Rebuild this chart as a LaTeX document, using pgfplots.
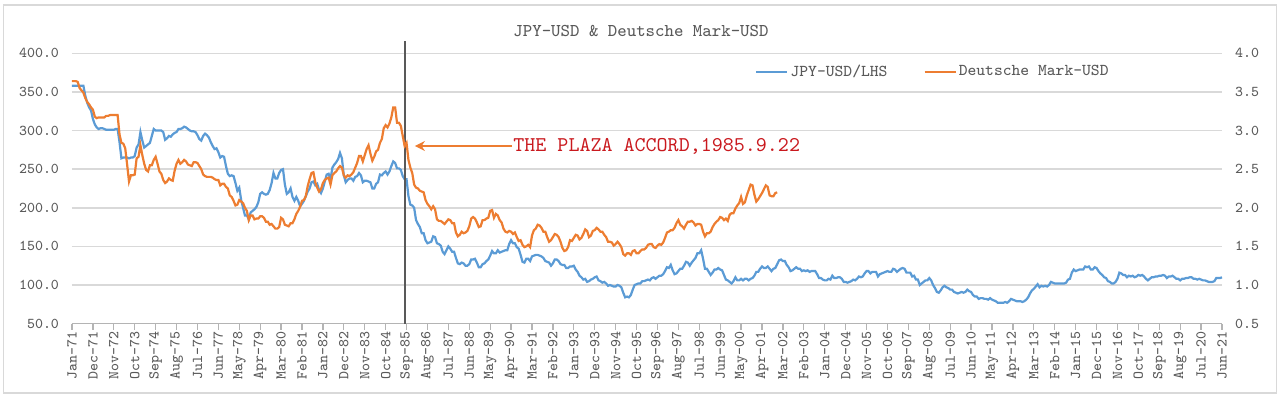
\documentclass[border=0pt]{standalone}
\usepackage{pgfplots}
\pgfplotsset{compat=1.18}
\usetikzlibrary{arrows.meta}
\definecolor{jblue}{HTML}{5B9BD5}
\definecolor{dorange}{HTML}{ED7D31}
\definecolor{gridc}{HTML}{D9D9D9}
\definecolor{txt}{HTML}{595959}
\definecolor{plaza}{HTML}{C9191E}
\newcommand\tkfont{\ttfamily\fontsize{7.5pt}{9pt}\selectfont}
\newcommand\lgfont{\ttfamily\fontsize{8.3pt}{10pt}\selectfont}
\newcommand\ttlfont{\ttfamily\fontsize{9pt}{11pt}\selectfont}
\newcommand\anfont{\ttfamily\fontsize{10.5pt}{12pt}\selectfont}
\begin{document}
\begin{tikzpicture}
\useasboundingbox (-36pt,-37.2pt) rectangle (604pt,161.8pt);
\draw[gridc, line width=0.6pt] (-34.25pt,-34.7pt) rectangle (602.25pt,159.3pt);
\begin{axis}[
  at={(0pt,0pt)}, anchor=south west, scale only axis,
  width=575pt, height=135.15pt,
  xmin=0, xmax=605, ymin=50, ymax=400,
  clip=false,
  axis x line*=bottom, axis y line*=left,
  x axis line style={draw=txt!45, line width=0.6pt},
  y axis line style={draw=none},
  ytick={50,100,...,400},
  yticklabels={50.0,100.0,150.0,200.0,250.0,300.0,350.0,400.0},
  ymajorgrids, grid style={gridc, line width=0.75pt},
  major y tick style={draw=none},
  xtick={0,11,...,605},
  xticklabels={Jan-71,Dec-71,Nov-72,Oct-73,Sep-74,Aug-75,Jul-76,Jun-77,May-78,Apr-79,Mar-80,Feb-81,Jan-82,Dec-82,Nov-83,Oct-84,Sep-85,Aug-86,Jul-87,Jun-88,May-89,Apr-90,Mar-91,Feb-92,Jan-93,Dec-93,Nov-94,Oct-95,Sep-96,Aug-97,Jul-98,Jun-99,May-00,Apr-01,Mar-02,Feb-03,Jan-04,Dec-04,Nov-05,Oct-06,Sep-07,Aug-08,Jul-09,Jun-10,May-11,Apr-12,Mar-13,Feb-14,Jan-15,Dec-15,Nov-16,Oct-17,Sep-18,Aug-19,Jul-20,Jun-21},
  tick align=outside, major tick length=3pt,
  major x tick style={draw=txt!45, line width=0.6pt},
  x tick label style={rotate=90, anchor=east, font=\tkfont, text=txt, inner sep=1pt},
  y tick label style={font=\tkfont, text=txt},
  title={JPY-USD \& Deutsche Mark-USD},
  title style={at={(0.4948,1.038)}, anchor=center, font=\ttlfont, text=txt},
  legend columns=2,
  legend style={at={(0.5939,0.9308)}, anchor=west, draw=none, fill=none,
    inner sep=0pt, font=\lgfont, text=txt,
    nodes={inner sep=1pt},
    /tikz/every even column/.append style={column sep=17pt}},
  legend image code/.code={\draw[#1] (0pt,0pt) -- (15.5pt,0pt);},
]
\addplot[jblue, line width=1.1pt] table[x expr=\coordindex, y index=0, header=false, row sep=\\] {
358\\358\\358\\358\\358\\358\\358\\345\\336\\330\\326\\315\\
308\\304\\302\\303\\303\\302\\301\\301\\301\\301\\301\\302\\
302\\285\\264\\265\\265\\265\\264\\265\\265\\267\\278\\282\\
298\\287\\278\\280\\282\\284\\293\\302\\300\\300\\300\\300\\
298\\288\\290\\293\\292\\295\\297\\298\\302\\302\\303\\305\\
304\\302\\300\\299\\299\\298\\294\\289\\287\\293\\296\\294\\
291\\285\\280\\276\\277\\272\\265\\267\\266\\254\\244\\241\\
242\\241\\232\\222\\226\\210\\200\\190\\190\\185\\194\\196\\
198\\201\\207\\218\\220\\218\\217\\218\\223\\232\\245\\238\\
238\\245\\249\\250\\230\\218\\220\\225\\214\\209\\214\\209\\
202\\205\\209\\215\\221\\225\\233\\234\\229\\231\\223\\219\\
225\\234\\243\\244\\237\\252\\256\\259\\263\\271\\264\\242\\
233\\236\\238\\238\\235\\240\\241\\245\\242\\233\\235\\235\\
234\\233\\225\\225\\231\\233\\243\\242\\245\\247\\243\\247\\
254\\260\\258\\251\\251\\249\\241\\237\\237\\215\\204\\203\\
200\\184\\179\\175\\167\\167\\158\\154\\155\\156\\163\\162\\
154\\153\\151\\143\\140\\145\\150\\147\\143\\143\\135\\128\\
127\\129\\128\\125\\125\\127\\133\\133\\134\\129\\123\\123\\
127\\128\\131\\133\\138\\144\\141\\141\\145\\142\\143\\144\\
145\\145\\153\\158\\154\\154\\149\\147\\139\\130\\129\\134\\
134\\131\\137\\138\\139\\139\\138\\137\\135\\131\\130\\129\\
125\\128\\133\\133\\131\\127\\126\\126\\122\\122\\124\\124\\
125\\120\\117\\112\\110\\107\\108\\104\\105\\107\\108\\110\\
111\\106\\105\\103\\104\\102\\99\\100\\99\\98\\98\\100\\
99\\97\\90\\84\\85\\84\\87\\94\\100\\101\\102\\102\\
105\\105\\106\\107\\106\\109\\110\\108\\110\\112\\112\\114\\
118\\123\\122\\126\\119\\114\\115\\118\\121\\121\\125\\130\\
129\\125\\129\\132\\135\\141\\141\\145\\134\\121\\121\\117\\
113\\116\\120\\120\\122\\120\\119\\113\\107\\106\\104\\102\\
105\\110\\106\\106\\108\\106\\108\\108\\106\\108\\109\\112\\
117\\117\\121\\124\\122\\122\\124\\121\\118\\121\\122\\127\\
132\\133\\131\\131\\126\\123\\118\\119\\121\\123\\121\\121\\
118\\119\\118\\119\\117\\118\\118\\118\\114\\109\\109\\107\\
106\\106\\108\\107\\112\\109\\109\\110\\110\\108\\104\\104\\
103\\104\\105\\107\\106\\108\\111\\110\\111\\115\\118\\118\\
115\\117\\117\\117\\111\\114\\115\\116\\117\\118\\117\\117\\
121\\120\\117\\119\\121\\122\\121\\116\\116\\116\\111\\112\\
107\\107\\100\\102\\104\\106\\106\\109\\106\\100\\96\\91\\
90\\93\\97\\99\\97\\96\\94\\94\\91\\90\\89\\90\\
91\\90\\91\\94\\92\\91\\87\\85\\85\\82\\83\\83\\
82\\82\\81\\83\\81\\80\\79\\77\\77\\77\\77\\78\\
77\\79\\82\\81\\80\\79\\79\\79\\78\\79\\81\\84\\
89\\93\\95\\98\\101\\97\\99\\98\\99\\98\\100\\104\\
103\\102\\102\\102\\102\\102\\102\\103\\107\\108\\116\\120\\
118\\119\\120\\120\\120\\124\\123\\124\\120\\120\\123\\122\\
118\\115\\113\\110\\109\\105\\104\\102\\102\\104\\108\\116\\
115\\113\\113\\110\\112\\111\\112\\110\\111\\113\\112\\113\\
111\\108\\106\\108\\110\\110\\111\\111\\112\\112\\113\\112\\
109\\111\\111\\112\\110\\108\\108\\106\\108\\108\\109\\109\\
110\\110\\108\\108\\107\\108\\107\\106\\106\\105\\104\\104\\
104\\105\\109\\109\\109\\110\\
};
\addlegendentry{JPY-USD/LHS}
\addlegendimage{dorange, line width=1.1pt}
\addlegendentry{Deutsche Mark-USD}
\draw[txt, line width=1pt] (axis cs:175,50) -- (axis cs:175,416);
\draw[dorange, line width=0.7pt, -{Stealth[length=5pt,width=5pt]}] (axis cs:231.5,280) -- (axis cs:180.4,280);
\node[anchor=west, inner sep=0pt, text=plaza, font=\anfont] at (axis cs:232,280) {THE PLAZA ACCORD,1985.9.22};
\end{axis}
\begin{axis}[
  at={(0pt,0pt)}, anchor=south west, scale only axis,
  width=575pt, height=135.15pt,
  xmin=0, xmax=605, ymin=0.5, ymax=4.0,
  clip=false,
  axis x line=none, xtick=\empty,
  axis y line*=right,
  y axis line style={draw=none},
  ytick={0.5,1.0,...,4.0},
  yticklabels={0.5,1.0,1.5,2.0,2.5,3.0,3.5,4.0},
  major y tick style={draw=none},
  y tick label style={font=\tkfont, text=txt, xshift=3pt},
]
\addplot[dorange, line width=1.1pt] table[x expr=\coordindex, y index=0, header=false, row sep=\\] {
3.64\\3.64\\3.64\\3.63\\3.55\\3.52\\3.49\\3.42\\3.37\\3.34\\3.30\\3.27\\
3.18\\3.16\\3.17\\3.17\\3.17\\3.17\\3.19\\3.19\\3.20\\3.20\\3.20\\3.20\\
3.20\\2.95\\2.84\\2.83\\2.77\\2.56\\2.34\\2.42\\2.42\\2.43\\2.64\\2.66\\
2.81\\2.68\\2.57\\2.49\\2.47\\2.55\\2.55\\2.62\\2.66\\2.57\\2.47\\2.44\\
2.36\\2.32\\2.34\\2.38\\2.36\\2.35\\2.48\\2.57\\2.62\\2.57\\2.59\\2.62\\
2.60\\2.56\\2.55\\2.54\\2.59\\2.59\\2.58\\2.54\\2.50\\2.43\\2.41\\2.40\\
2.40\\2.40\\2.39\\2.37\\2.36\\2.36\\2.29\\2.31\\2.31\\2.27\\2.25\\2.16\\
2.14\\2.09\\2.03\\2.04\\2.10\\2.08\\2.06\\2.00\\1.96\\1.84\\1.90\\1.90\\
1.85\\1.86\\1.86\\1.89\\1.89\\1.87\\1.82\\1.82\\1.78\\1.79\\1.76\\1.73\\
1.73\\1.75\\1.87\\1.85\\1.78\\1.77\\1.76\\1.80\\1.80\\1.85\\1.92\\1.96\\
2.01\\2.09\\2.10\\2.15\\2.28\\2.37\\2.45\\2.46\\2.33\\2.26\\2.21\\2.24\\
2.32\\2.36\\2.38\\2.39\\2.30\\2.42\\2.45\\2.47\\2.51\\2.54\\2.52\\2.42\\
2.39\\2.42\\2.41\\2.43\\2.46\\2.52\\2.58\\2.67\\2.67\\2.60\\2.68\\2.76\\
2.81\\2.70\\2.61\\2.66\\2.73\\2.75\\2.84\\2.89\\3.03\\3.07\\3.04\\3.09\\
3.17\\3.30\\3.30\\3.10\\3.10\\3.06\\2.93\\2.80\\2.84\\2.62\\2.52\\2.45\\
2.30\\2.26\\2.25\\2.22\\2.21\\2.20\\2.10\\2.05\\2.02\\1.98\\2.02\\1.98\\
1.85\\1.83\\1.83\\1.81\\1.79\\1.82\\1.85\\1.84\\1.80\\1.80\\1.68\\1.63\\
1.65\\1.69\\1.67\\1.68\\1.70\\1.76\\1.86\\1.88\\1.86\\1.81\\1.75\\1.76\\
1.84\\1.84\\1.86\\1.87\\1.96\\1.97\\1.87\\1.92\\1.90\\1.84\\1.81\\1.73\\
1.69\\1.68\\1.70\\1.69\\1.66\\1.68\\1.62\\1.57\\1.58\\1.52\\1.49\\1.50\\
1.52\\1.49\\1.64\\1.71\\1.73\\1.78\\1.77\\1.74\\1.69\\1.69\\1.62\\1.56\\
1.58\\1.62\\1.66\\1.65\\1.62\\1.56\\1.48\\1.44\\1.45\\1.49\\1.58\\1.57\\
1.61\\1.65\\1.64\\1.59\\1.61\\1.66\\1.72\\1.70\\1.62\\1.64\\1.70\\1.71\\
1.74\\1.72\\1.69\\1.69\\1.65\\1.62\\1.56\\1.56\\1.55\\1.51\\1.53\\1.56\\
1.53\\1.49\\1.40\\1.38\\1.41\\1.41\\1.39\\1.44\\1.45\\1.41\\1.41\\1.44\\
1.46\\1.46\\1.48\\1.52\\1.53\\1.53\\1.49\\1.48\\1.51\\1.53\\1.52\\1.55\\
1.61\\1.68\\1.69\\1.71\\1.71\\1.74\\1.80\\1.84\\1.78\\1.76\\1.73\\1.78\\
1.82\\1.82\\1.83\\1.81\\1.77\\1.79\\1.79\\1.78\\1.69\\1.63\\1.67\\1.67\\
1.69\\1.75\\1.79\\1.82\\1.84\\1.88\\1.87\\1.84\\1.86\\1.83\\1.91\\1.93\\
1.93\\1.99\\2.03\\2.06\\2.14\\2.05\\2.07\\2.16\\2.23\\2.30\\2.29\\2.17\\
2.08\\2.11\\2.15\\2.19\\2.24\\2.29\\2.27\\2.16\\2.15\\2.15\\2.19\\2.20\\
};
\end{axis}
\end{tikzpicture}
\end{document}
